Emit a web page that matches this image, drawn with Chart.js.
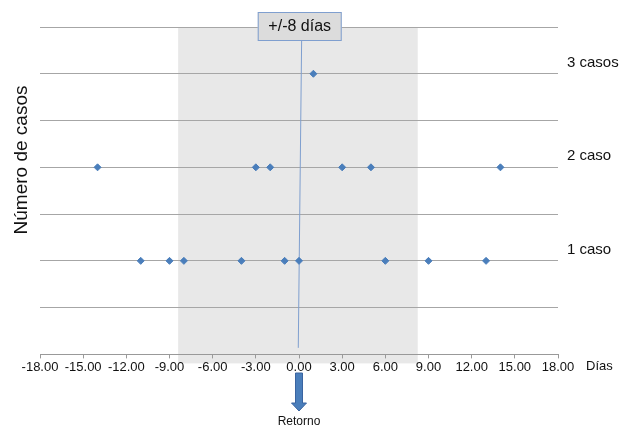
<!DOCTYPE html>
<html>
<head>
<meta charset="utf-8">
<script src="https://cdn.jsdelivr.net/npm/chart.js@4/dist/chart.umd.min.js"></script>
<style>
	html, body { margin: 0; padding: 0; background: #fff; }
	#wrap { width: 622px; height: 429px; }
</style>
</head>
<body>
<div id="wrap"><canvas id="casosChart" width="622" height="429"></canvas></div>
<script>
// días de retorno por número de casos
const diasUnCaso = [-11, -9, -8, -4, -1, 0, 6, 9, 13]
const diasDosCasos = [-14, -3, -2, 3, 5, 14]
const diasTresCasos = [1]

const ticksX = [-18, -15, -12, -9, -6, -3, 0, 3, 6, 9, 12, 15, 18]
const etiquetasCasos = [
	{ y: 3, texto: "3 casos" },
	{ y: 2, texto: "2 caso" },
	{ y: 1, texto: "1 caso" }
]
// banda gris (+/-8 días) y línea de retorno
const banda = [-8.4, 8.25]
const lineaRetorno = [{ x: -0.05, y: 0.07 }, { x: 0.2, y: 3.6 }]

const azul = "#4a7ebb"
const fuente = "'Liberation Sans', Arial, sans-serif"

function puntos(dias, casos) {
	return dias.map(d => ({ x: d, y: casos }))
}

const extras = {
	id: "extras",
	beforeDraw(chart) {
		const { ctx, scales: { x, y } } = chart
		const x0 = x.getPixelForValue(banda[0])
		const x1 = x.getPixelForValue(banda[1])
		ctx.save()
		ctx.fillStyle = "#e8e8e8"
		ctx.fillRect(x0, y.top + 1, x1 - x0, y.bottom - y.top + 8)
		ctx.restore()
	},
	afterDraw(chart) {
		const { ctx, scales: { x, y } } = chart
		ctx.save()

		// título del eje y (algo por encima del centro, como en el original)
		ctx.fillStyle = "#111"
		ctx.font = "19px " + fuente
		ctx.textAlign = "center"
		ctx.textBaseline = "middle"
		ctx.translate(22, 160)
		ctx.rotate(-Math.PI / 2)
		ctx.fillText("Número de casos", 0, 0)
		ctx.setTransform(1, 0, 0, 1, 0, 0)

		// etiquetas de la derecha
		ctx.font = "15px " + fuente
		ctx.textAlign = "left"
		etiquetasCasos.forEach(e => {
			ctx.fillText(e.texto, x.right + 9, y.getPixelForValue(e.y) - 11)
		})

		// título del eje x
		ctx.font = "13px " + fuente
		ctx.fillText("Días", x.right + 28, y.bottom + 12)

		// recuadro +/-8 días
		const cx = x.getPixelForValue(0.05)
		ctx.fillStyle = "#dcdcdc"
		ctx.strokeStyle = "#7f9fcf"
		ctx.lineWidth = 1
		ctx.fillRect(cx - 42, 12, 84, 29)
		ctx.strokeRect(cx - 41.5, 12.5, 83, 28)
		ctx.fillStyle = "#111"
		ctx.font = "16px " + fuente
		ctx.textAlign = "center"
		ctx.fillText("+/-8 días", cx, 27)

		// flecha "Retorno"
		const ax = x.getPixelForValue(0)
		ctx.fillStyle = azul
		ctx.strokeStyle = "#3a64a0"
		ctx.beginPath()
		ctx.moveTo(ax - 3.5, 373)
		ctx.lineTo(ax + 3.5, 373)
		ctx.lineTo(ax + 3.5, 403)
		ctx.lineTo(ax + 7.5, 403)
		ctx.lineTo(ax, 411)
		ctx.lineTo(ax - 7.5, 403)
		ctx.lineTo(ax - 3.5, 403)
		ctx.closePath()
		ctx.fill()
		ctx.stroke()
		ctx.fillStyle = "#111"
		ctx.font = "12px " + fuente
		ctx.fillText("Retorno", ax, 422)

		ctx.restore()
	}
}

const casosChart = new Chart(document.getElementById("casosChart"), {
	type: "scatter",
	data: {
		datasets: [
			{ label: "1 caso", data: puntos(diasUnCaso, 1) },
			{ label: "2 casos", data: puntos(diasDosCasos, 2) },
			{ label: "3 casos", data: puntos(diasTresCasos, 3) },
			{
				label: "Retorno",
				type: "line",
				data: lineaRetorno,
				borderColor: "#7f9fcf",
				borderWidth: 1,
				pointRadius: 0,
				clip: false
			}
		].map(ds => Object.assign({
			pointStyle: "rectRot",
			pointRadius: 3.5,
			pointHoverRadius: 3.5,
			backgroundColor: azul,
			borderColor: azul,
			borderWidth: 1
		}, ds))
	},
	options: {
		responsive: false,
		animation: false,
		devicePixelRatio: 1,
		layout: { padding: { left: 40, right: 64, top: 27, bottom: 53 } },
		plugins: {
			legend: { display: false },
			tooltip: { enabled: false }
		},
		scales: {
			x: {
				type: "linear",
				min: -18,
				max: 18,
				afterBuildTicks: axis => { axis.ticks = ticksX.map(v => ({ value: v })) },
				ticks: {
					callback: v => v.toFixed(2),
					autoSkip: false,
					maxRotation: 0,
					padding: 1,
					color: "#111",
					font: { family: fuente, size: 13 }
				},
				grid: { drawOnChartArea: false, tickLength: 4, color: "#999" },
				border: { color: "#999" }
			},
			y: {
				min: 0,
				max: 3.5,
				ticks: { display: false, stepSize: 0.5 },
				grid: { color: "#a6a6a6", drawTicks: false },
				border: { display: false }
			}
		}
	},
	plugins: [extras]
})
</script>
</body>
</html>
